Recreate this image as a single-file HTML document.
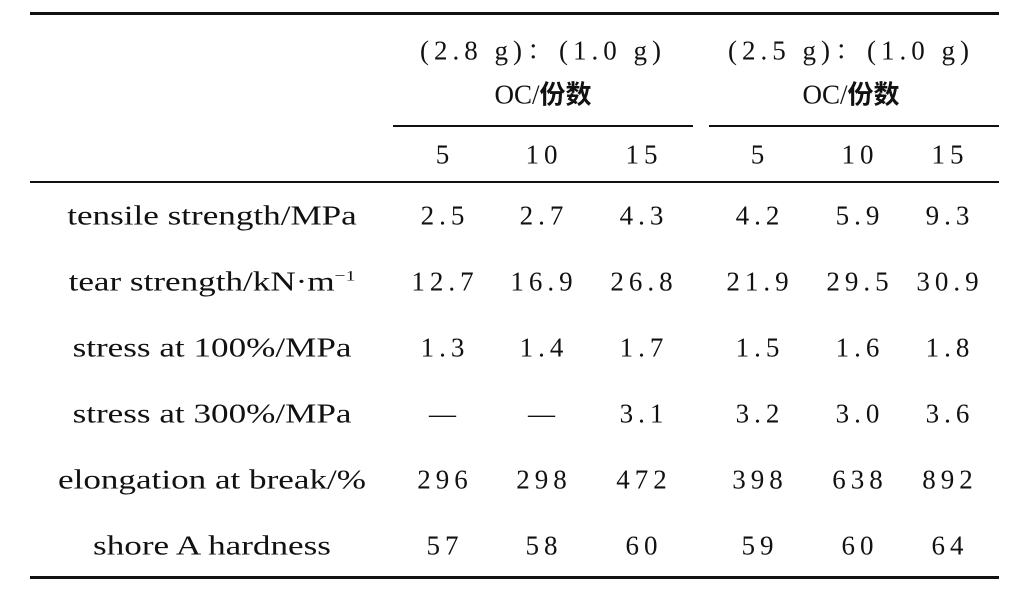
<!DOCTYPE html>
<html><head><meta charset="utf-8"><style>
body{margin:0;width:1032px;height:601px;background:#fff;position:relative;overflow:hidden;font-family:"Liberation Serif","Noto Serif CJK SC",serif;color:#111}
.t{position:absolute;font-size:27px;transform:translate(-50%,-50%);white-space:nowrap}
.lab{transform:translate(-50%,-50%) scaleX(1.3)}
.n{letter-spacing:5px}
.cj{font-family:"Noto Sans CJK SC",sans-serif;font-weight:bold;font-size:26px}
.l{position:absolute;background:#111}
</style></head><body>
<div class="l" style="left:30px;top:12px;width:969px;height:3px"></div>
<div class="l" style="left:393px;top:125px;width:300px;height:2px"></div>
<div class="l" style="left:709px;top:125px;width:290px;height:2px"></div>
<div class="l" style="left:30px;top:181px;width:969px;height:2px"></div>
<div class="l" style="left:30px;top:576px;width:969px;height:3px"></div>
<div class="t n" style="left:543px;top:48px">(2.8 g)：(1.0 g)</div>
<div class="t" style="left:543px;top:93px">OC/<span class="cj">份数</span></div>
<div class="t n" style="left:851px;top:48px">(2.5 g)：(1.0 g)</div>
<div class="t" style="left:851px;top:93px">OC/<span class="cj">份数</span></div>
<script>
const cols=[445,544,644,760,860,950];
const heads=["5","10","15","5","10","15"];
const labels=["tensile strength/MPa","tear strength/kN·m<sup style='font-size:15px'>−1</sup>","stress at 100%/MPa","stress at 300%/MPa","elongation at break/%","shore A hardness"];
const rows=[["2.5","2.7","4.3","4.2","5.9","9.3"],["12.7","16.9","26.8","21.9","29.5","30.9"],["1.3","1.4","1.7","1.5","1.6","1.8"],["—","—","3.1","3.2","3.0","3.6"],["296","298","472","398","638","892"],["57","58","60","59","60","64"]];
const b=document.body;
function add(html,x,y,name,cls){const d=document.createElement('div');d.className='t '+(cls||'');d.innerHTML=html;d.style.left=x+'px';d.style.top=y+'px';


b.appendChild(d);}
heads.forEach((h,i)=>add(h,cols[i],155,'col-head-'+(i+1),'n'));
labels.forEach((l,r)=>{const y=216+r*66;add(l,212,y,'row-label-'+(r+1),'lab');rows[r].forEach((v,i)=>add(v,cols[i],y,'cell-'+(r+1)+'-'+(i+1),'n'));});
</script>
</body></html>
